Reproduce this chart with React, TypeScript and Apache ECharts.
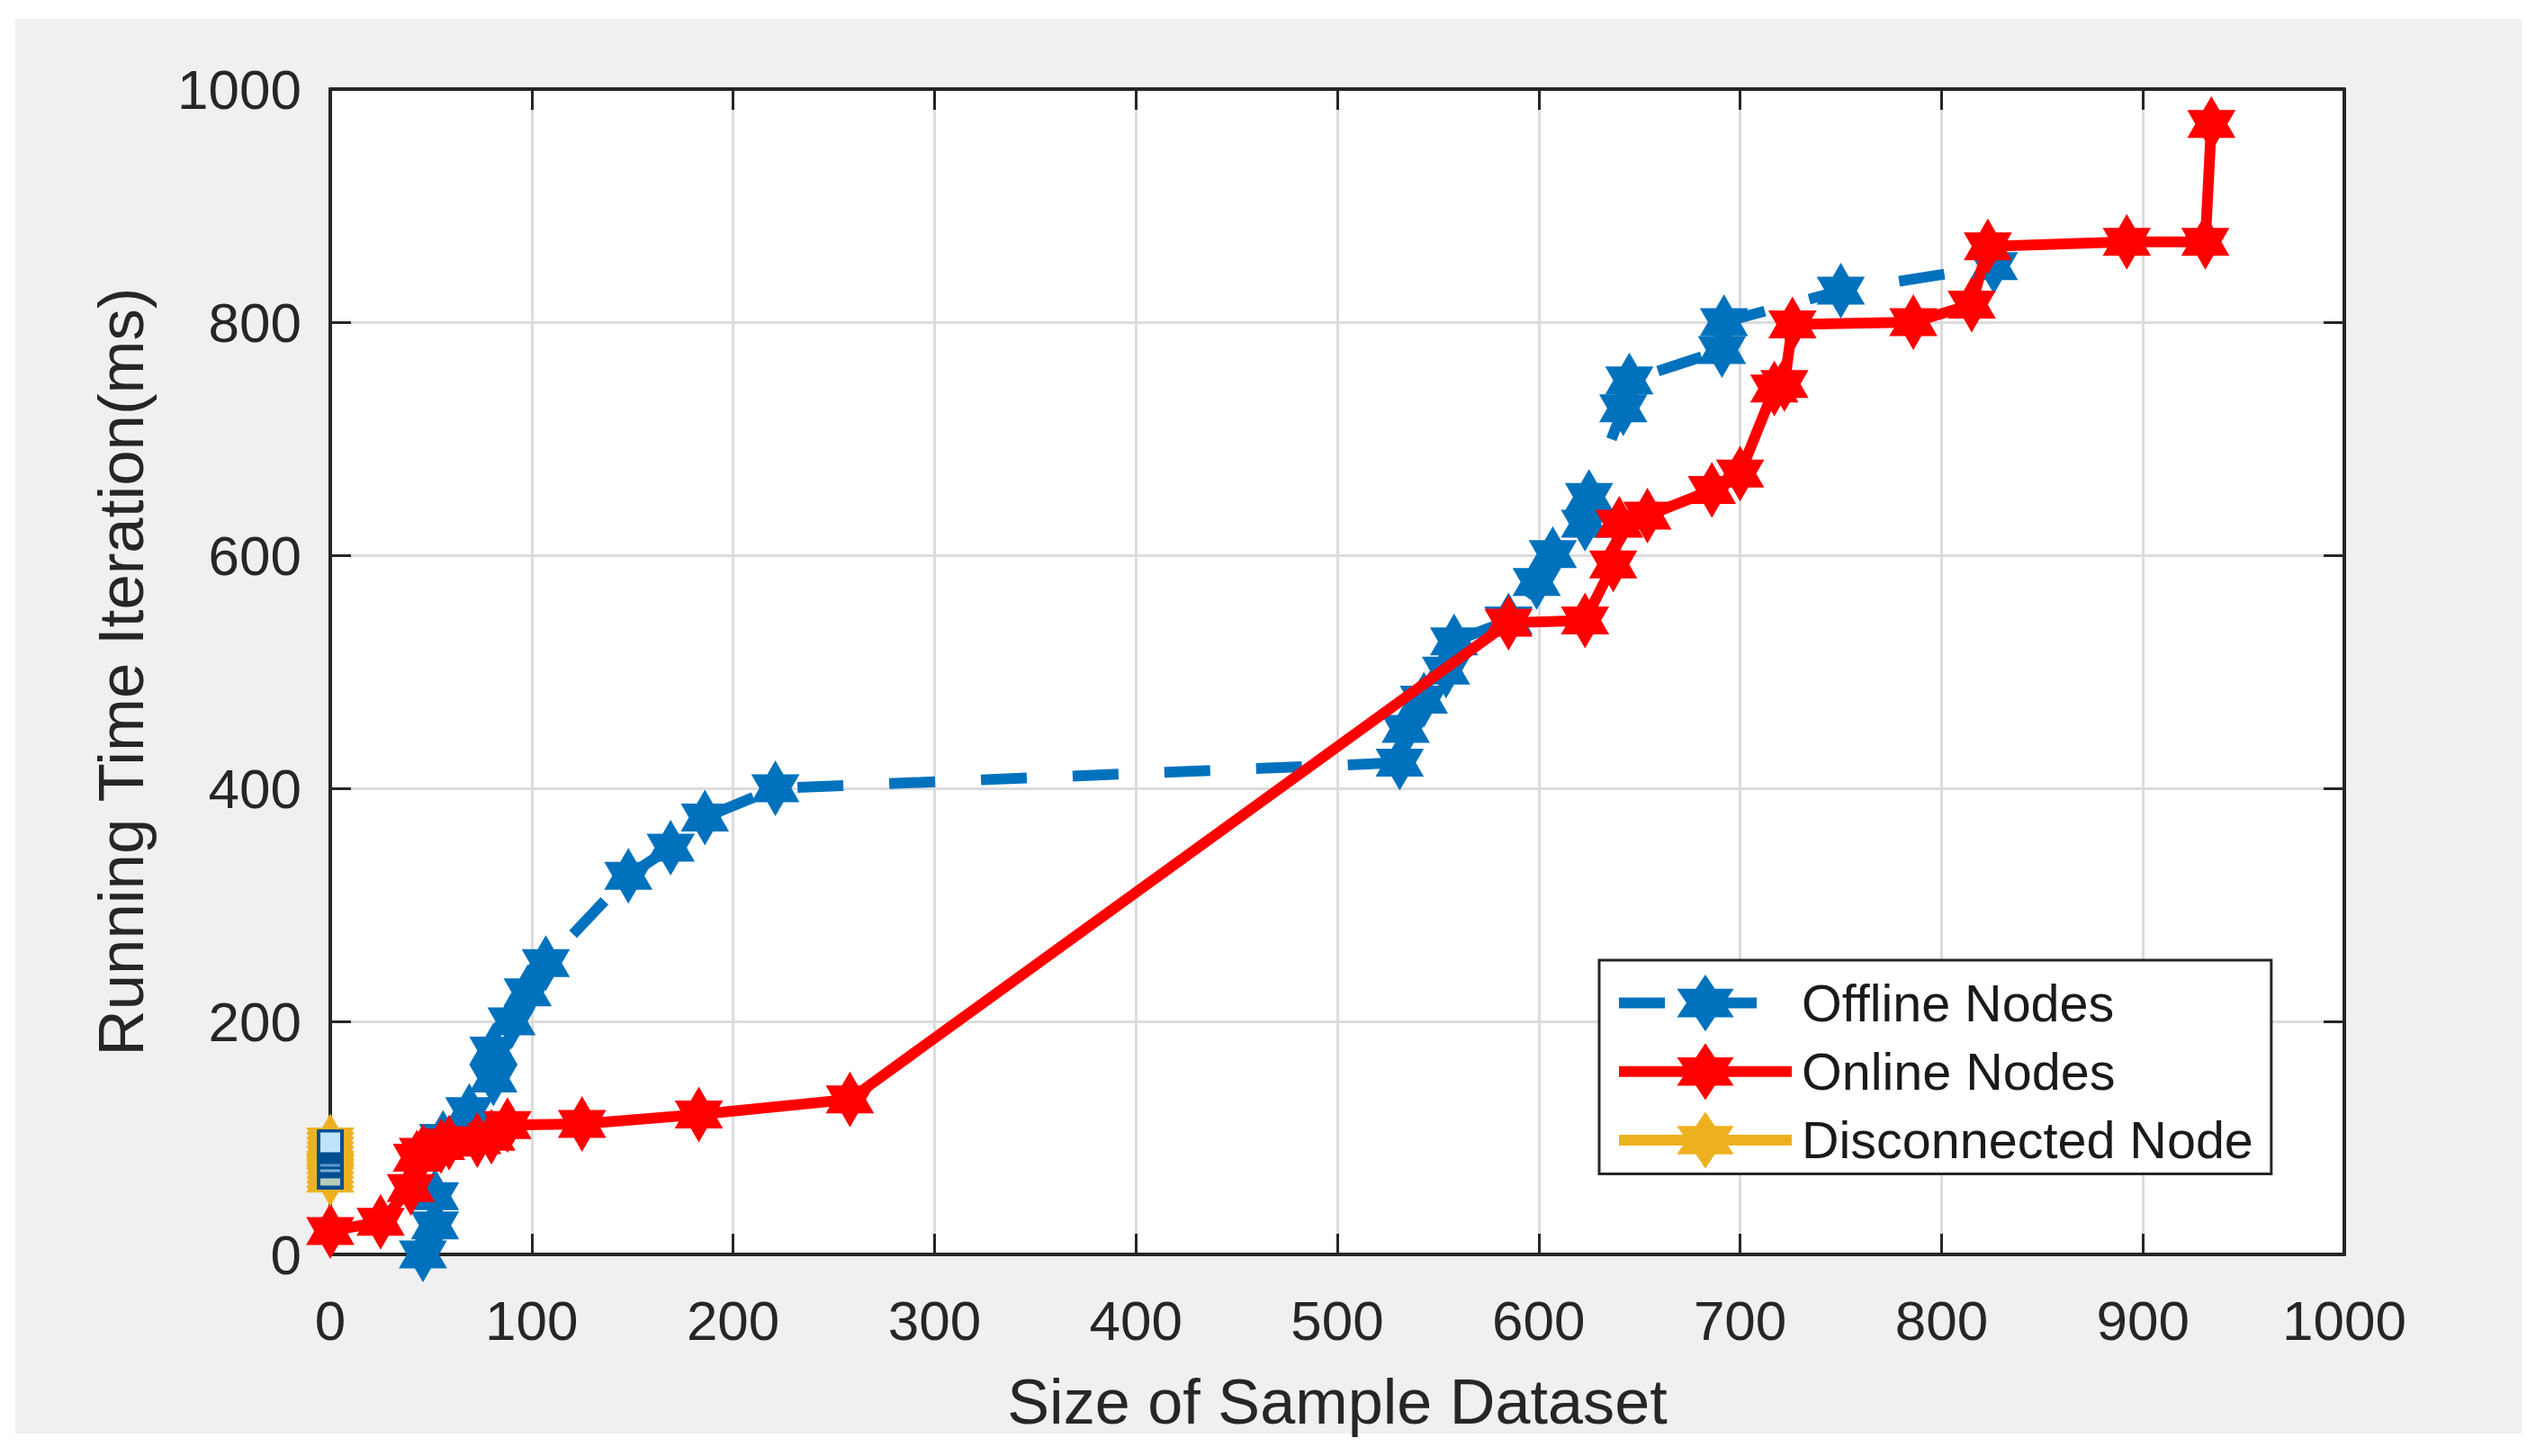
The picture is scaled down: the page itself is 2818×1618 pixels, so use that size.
import React, { useEffect, useRef } from "react";
import * as echarts from "echarts";

const xTicks = [0, 100, 200, 300, 400, 500, 600, 700, 800, 900, 1000];
const yTicks = [0, 200, 400, 600, 800, 1000];
const offlineX = [46, 52, 52, 56, 69, 81, 81, 90, 98, 107, 148, 169, 186, 221, 531, 534, 543, 554, 558, 585, 599, 607, 623, 625, 642, 645, 691, 692, 750, 826];
const offlineY = [0, 25, 50, 100, 123, 151, 175, 200, 225, 250, 325, 349, 375, 400, 422, 451, 476, 501, 526, 544, 577, 601, 627, 650, 726, 750, 776, 800, 827, 848];
const onlineX = [0, 25, 40, 43, 46, 55, 59, 73, 80, 88, 125, 183, 258, 585, 623, 637, 640, 654, 686, 700, 717, 722, 726, 786, 815, 823, 892, 931, 934];
const onlineY = [20, 28, 57, 83, 88, 93, 96, 98, 101, 111, 112, 120, 133, 542, 544, 592, 627, 634, 656, 670, 743, 747, 798, 800, 815, 865, 869, 869, 970];
const disconnectedX = [0, 0, 0, 0, 0, 0, 0, 0, 0];
const disconnectedY = [65, 69, 73, 77, 81, 85, 89, 93, 97];
const seriesNames = ["Offline Nodes", "Online Nodes", "Disconnected Node"];
const xTitle = "Size of Sample Dataset";
const yTitle = "Running Time Iteration(ms)";

const HEX = "path://M0 -100L28.9 -50L86.6 -50L57.7 0L86.6 50L28.9 50L0 100L-28.9 50L-86.6 50L-57.7 0L-86.6 -50L-28.9 -50Z";
const FONT = "'Liberation Sans', Arial, sans-serif";
const DARK = "#262626";

const zip = (xs: number[], ys: number[]) => xs.map((x, i) => [x, ys[i]]);

export default function App() {
  const ref = useRef<HTMLDivElement>(null);
  useEffect(() => {
    const chart = echarts.init(ref.current!, undefined, { renderer: "svg" });
    const line = (name: string, xs: number[], ys: number[], color: string, dash: any, z: number) => ({
      name,
      type: "line",
      data: zip(xs, ys),
      z,
      clip: false,
      symbol: HEX,
      symbolSize: 62,
      symbolKeepAspect: true,
      showAllSymbol: true,
      itemStyle: { color },
      lineStyle: { color, width: 12, type: dash, dashOffset: 0, cap: "butt", join: "miter" },
      emphasis: { disabled: true },
    });
    const axisCommon = {
      type: "value",
      min: 0,
      max: 1000,
      axisLine: { show: true, onZero: false, lineStyle: { color: DARK, width: 4 } },
      axisTick: { show: true, inside: true, length: 23, lineStyle: { color: DARK, width: 3 } },
    };
    const mirror = {
      ...axisCommon,
      axisLabel: { show: false },
      splitLine: { show: false },
    };
    const grid0 = { color: "#dcdcdc", width: 3 };
    const label = (margin: number, list: number[]) => ({
      show: true,
      fontFamily: FONT,
      fontSize: 62,
      color: DARK,
      margin,
      formatter: (v: number) => (list.includes(v) ? String(v) : ""),
    });
    chart.setOption({
      animation: false,
      backgroundColor: "#ffffff",
      textStyle: { fontFamily: FONT },
      graphic: [
        {
          type: "rect",
          z: -10,
          silent: true,
          shape: { x: 17, y: 21, width: 2785, height: 1572 },
          style: { fill: "#f0f0f0" },
        },
      ],
      grid: {
        left: 367,
        top: 99,
        width: 2238,
        height: 1295,
        show: true,
        backgroundColor: "#ffffff",
        borderWidth: 0,
      },
      legend: {
        left: 1777,
        top: 1067,
        orient: "vertical",
        data: seriesNames,
        itemWidth: 192,
        itemHeight: 79,
        itemGap: 13,
        padding: [16, 20, 6, 16],
        backgroundColor: "#ffffff",
        borderColor: DARK,
        borderWidth: 3,
        borderRadius: 0,
        lineStyle: { width: 12 },
        textStyle: { fontFamily: FONT, fontSize: 57.5, color: "#1a1a1a", padding: [0, 0, 0, 6] },
      },
      xAxis: [
        {
          ...axisCommon,
          interval: 100,
          position: "bottom",
          name: xTitle,
          nameLocation: "middle",
          nameGap: 128,
          nameTextStyle: { fontFamily: FONT, fontSize: 70.2, color: DARK },
          axisLabel: label(42, xTicks),
          splitLine: { show: true, lineStyle: grid0 },
        },
        { ...mirror, interval: 100, position: "top" },
      ],
      yAxis: [
        {
          ...axisCommon,
          interval: 200,
          position: "left",
          name: yTitle,
          nameLocation: "middle",
          nameGap: 197,
          nameTextStyle: { fontFamily: FONT, fontSize: 70.8, color: DARK },
          axisLabel: label(32, yTicks),
          splitLine: { show: true, lineStyle: grid0 },
        },
        { ...mirror, interval: 200, position: "right" },
      ],
      series: [
        line(seriesNames[0], offlineX, offlineY, "#0072BD", [51, 51], 3),
        line(seriesNames[1], onlineX, onlineY, "#FF0000", "solid", 4),
        line(seriesNames[2], disconnectedX, disconnectedY, "#EDB120", "solid", 5),
        {
          type: "custom",
          name: "icon",
          z: 6,
          clip: false,
          silent: true,
          data: [[0, 81.5]],
          renderItem: (_: any, api: any) => {
            const [cx, cy] = api.coord([api.value(0), api.value(1)]);
            const r = (color: string, dx: number, dy: number, w: number, h: number) => ({
              type: "rect",
              shape: { x: cx + dx, y: cy + dy, width: w, height: h },
              style: { fill: color },
            });
            return {
              type: "group",
              children: [
                r("#004f92", -15, -33.5, 30, 67),
                r("#bfe3fb", -11, -30, 22, 22),
                r("#5f97c8", -11, 5, 22, 3),
                r("#7fb0d8", -11, 11, 22, 3),
                r("#b7ccb8", -11, 21, 22, 8),
              ],
            };
          },
        },
      ],
    });
    return () => chart.dispose();
  }, []);
  return <div ref={ref} style={{ position: "absolute", left: 0, top: 0, width: 2818, height: 1618 }} />;
}
